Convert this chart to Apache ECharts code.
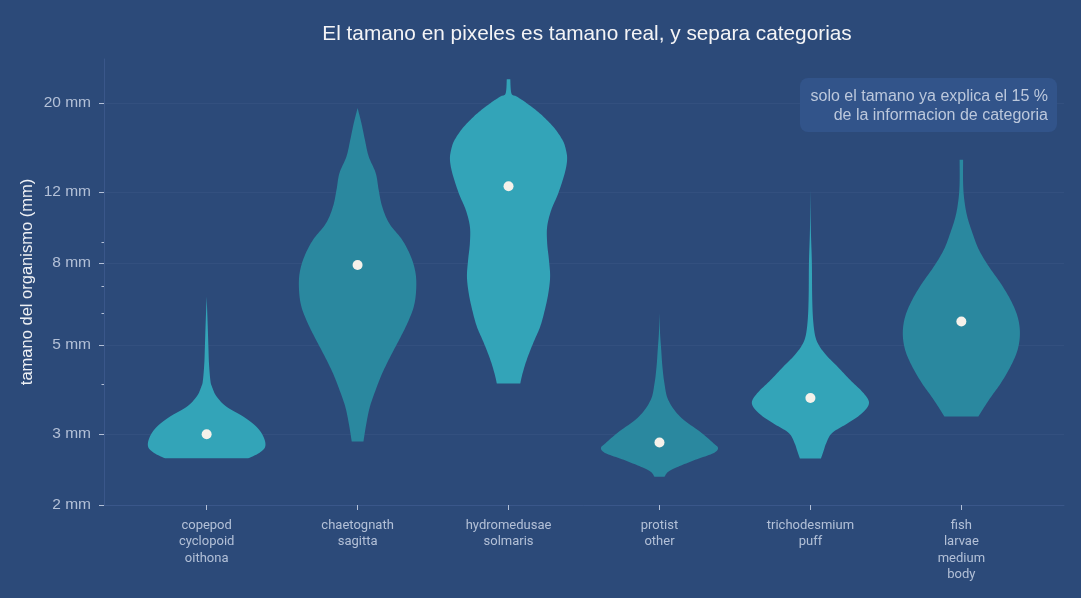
<!DOCTYPE html>
<html><head><meta charset="utf-8">
<script src="https://cdn.jsdelivr.net/npm/echarts@6/dist/echarts.min.js"></script>
<style>html,body{margin:0;padding:0;background:#2c4a79;}#c{width:1081px;height:598px;}</style>
</head><body><div id="c"></div>
<script>
// ---- data ----
const categories = ['copepod\ncyclopoid\noithona', 'chaetognath\nsagitta', 'hydromedusae\nsolmaris', 'protist\nother', 'trichodesmium\npuff', 'fish\nlarvae\nmedium\nbody'];
const medians = [3.0, 7.9, 12.4, 2.86, 3.69, 5.72];
const yTickLabels = [2, 3, 5, 8, 12, 20];
const yMinorTicks = [4, 6, 7, 9];
// density profiles (size in mm, bottom to top) and relative density (violin width)
const copepodSize = [2.613, 2.69, 2.794, 2.958, 3.131, 3.317, 3.512, 3.72, 3.94, 4.09, 4.50, 4.95, 5.66, 6.60];
const copepodDensity = [0.71, 0.89, 1.0, 0.97, 0.85, 0.63, 0.34, 0.17, 0.09, 0.063, 0.04, 0.03, 0.017, 0];
const chaetognathSize = [2.875, 3.19, 3.51, 3.87, 4.25, 4.68, 5.15, 5.66, 6.23, 6.85, 7.54, 8.29, 9.13, 10.03, 11.04, 12.15, 13.37, 14.71, 16.18, 17.81, 19.4];
const chaetognathDensity = [0.10, 0.15, 0.21, 0.31, 0.42, 0.56, 0.71, 0.85, 0.96, 1.0, 0.99, 0.91, 0.76, 0.54, 0.42, 0.36, 0.31, 0.19, 0.125, 0.065, 0];
const hydromedusaeSize = [4.01, 4.25, 4.59, 5.05, 5.55, 6.11, 6.73, 7.40, 8.14, 8.95, 9.85, 10.83, 11.92, 13.37, 14.43, 15.28, 16.18, 17.46, 18.85, 19.96, 20.73, 21.1, 22.9];
const hydromedusaeDensity = [0.20, 0.24, 0.31, 0.42, 0.54, 0.62, 0.68, 0.71, 0.69, 0.66, 0.66, 0.73, 0.85, 0.96, 1.0, 0.98, 0.92, 0.76, 0.53, 0.31, 0.14, 0.05, 0.03];
const protistSize = [2.35, 2.42, 2.49, 2.59, 2.69, 2.77, 2.85, 3.02, 3.32, 3.65, 4.01, 4.42, 4.86, 5.35, 6.0];
const protistDensity = [0.085, 0.15, 0.32, 0.61, 0.92, 1.0, 0.92, 0.72, 0.35, 0.15, 0.085, 0.05, 0.03, 0.01, 0];
const trichodesmiumSize = [2.61, 2.74, 2.85, 3.02, 3.19, 3.38, 3.58, 3.79, 4.09, 4.42, 4.68, 4.95, 5.24, 5.77, 6.60, 7.99, 9.66, 12.15];
const trichodesmiumDensity = [0.18, 0.23, 0.27, 0.37, 0.63, 0.88, 1.0, 0.91, 0.68, 0.46, 0.29, 0.16, 0.085, 0.046, 0.03, 0.025, 0.008, 0];
const fishSize = [3.32, 3.65, 4.01, 4.42, 4.86, 5.35, 5.88, 6.47, 7.12, 7.83, 8.62, 9.48, 10.43, 11.48, 12.62, 14.43];
const fishDensity = [0.29, 0.47, 0.67, 0.84, 0.96, 1.0, 0.96, 0.84, 0.67, 0.47, 0.30, 0.19, 0.10, 0.05, 0.03, 0.03];

const profiles = [
  [copepodSize, copepodDensity],
  [chaetognathSize, chaetognathDensity],
  [hydromedusaeSize, hydromedusaeDensity],
  [protistSize, protistDensity],
  [trichodesmiumSize, trichodesmiumDensity],
  [fishSize, fishDensity]
];
const violinColors = ['#33a4b8', '#2a889f', '#33a4b8', '#2a889f', '#33a4b8', '#2a889f'];
const HALF = 0.388;
const labelColor = '#b3c0d7';

// smooth outline drawing (Catmull-Rom through the pixel points of one side)
function smoothSide(pts) {
  const out = [];
  const n = pts.length;
  for (let i = 0; i < n - 1; i++) {
    const p0 = pts[Math.max(0, i - 1)], p1 = pts[i], p2 = pts[i + 1], p3 = pts[Math.min(n - 1, i + 2)];
    for (let s = 0; s < 10; s++) {
      const t = s / 10, t2 = t * t, t3 = t2 * t;
      out.push([0, 1].map(d => 0.5 * ((2 * p1[d]) + (-p0[d] + p2[d]) * t + (2 * p0[d] - 5 * p1[d] + 4 * p2[d] - p3[d]) * t2 + (-p0[d] + 3 * p1[d] - 3 * p2[d] + p3[d]) * t3)));
    }
  }
  out.push(pts[n - 1]);
  return out;
}

const chart = echarts.init(document.getElementById('c'));
chart.setOption({
  backgroundColor: '#2c4a79',
  animation: false,
  title: {
    text: 'El tamano en pixeles es tamano real, y separa categorias',
    left: 582, top: 19, textAlign: 'center',
    textStyle: { color: '#f4f4f6', fontSize: 20.8, fontWeight: 'normal', fontFamily: 'Liberation Sans' }
  },
  grid: { left: 104, right: 17, top: 59, bottom: 93 },
  xAxis: {
    type: 'value', min: -0.68, max: 5.68,
    splitLine: { show: false },
    axisLine: { show: true, onZero: false, lineStyle: { color: '#3a578a' } },
    axisTick: { show: true, customValues: [0, 1, 2, 3, 4, 5], length: 5, lineStyle: { color: labelColor } },
    axisLabel: {
      customValues: [0, 1, 2, 3, 4, 5],
      formatter: v => categories[Math.round(v)],
      color: labelColor, fontSize: 13, lineHeight: 16.5, margin: 12,
      fontFamily: 'Roboto'
    }
  },
  yAxis: [{
    type: 'log', logBase: 10, min: 2, max: 25.7,
    axisLine: { show: true, onZero: false, lineStyle: { color: '#3a578a' } },
    axisTick: { show: true, customValues: yTickLabels, length: 5, lineStyle: { color: labelColor } },
    axisLabel: { customValues: yTickLabels, formatter: v => Math.round(v) + ' mm', color: labelColor, fontSize: 15.5, margin: 13, fontFamily: 'Liberation Sans' },
    splitLine: { show: true, lineStyle: { color: '#33507f' } },
    name: 'tamano del organismo (mm)', nameLocation: 'middle', nameGap: 68, nameMoveOverlap: false,
    nameTextStyle: { color: '#eef0f4', fontSize: 16.5, fontFamily: 'Liberation Sans' }
  }, {
    type: 'log', logBase: 10, min: 2, max: 25.7, position: 'left',
    axisLine: { show: false, onZero: false },
    axisTick: { show: true, customValues: yMinorTicks, length: 2.5, lineStyle: { color: labelColor } },
    axisLabel: { show: false },
    splitLine: { show: false }
  }],
  graphic: [
    { type: 'rect', x: 800, y: 78, shape: { width: 257, height: 54, r: 8 }, style: { fill: '#32548a' }, z: 10 },
    { type: 'text', x: 1048, y: 106, z: 11, style: { text: 'solo el tamano ya explica el 15 %\nde la informacion de categoria', fill: '#bcc8dc', fontSize: 16, fontFamily: 'Liberation Sans', align: 'right', verticalAlign: 'middle', lineHeight: 19.7 } }
  ],
  series: [{
    type: 'custom',
    data: medians.map((m, i) => [i, m]),
    encode: { x: 0, y: 1 },
    silent: true,
    renderItem: function (params, api) {
      const i = params.dataIndex;
      const sizes = profiles[i][0], dens = profiles[i][1];
      const left = [], right = [];
      for (let k = 0; k < sizes.length; k++) {
        left.push(api.coord([i - dens[k] * HALF, sizes[k]]));
        right.push(api.coord([i + dens[k] * HALF, sizes[k]]));
      }
      const l = smoothSide(left), r = smoothSide(right).reverse();
      return { type: 'polygon', shape: { points: l.concat(r) }, style: { fill: violinColors[i] } };
    }
  }, {
    type: 'scatter',
    data: medians.map((m, i) => [i, m]),
    symbolSize: 10,
    silent: true,
    itemStyle: { color: '#f5f1ea', opacity: 1 },
    z: 5
  }]
});
</script></body></html>
